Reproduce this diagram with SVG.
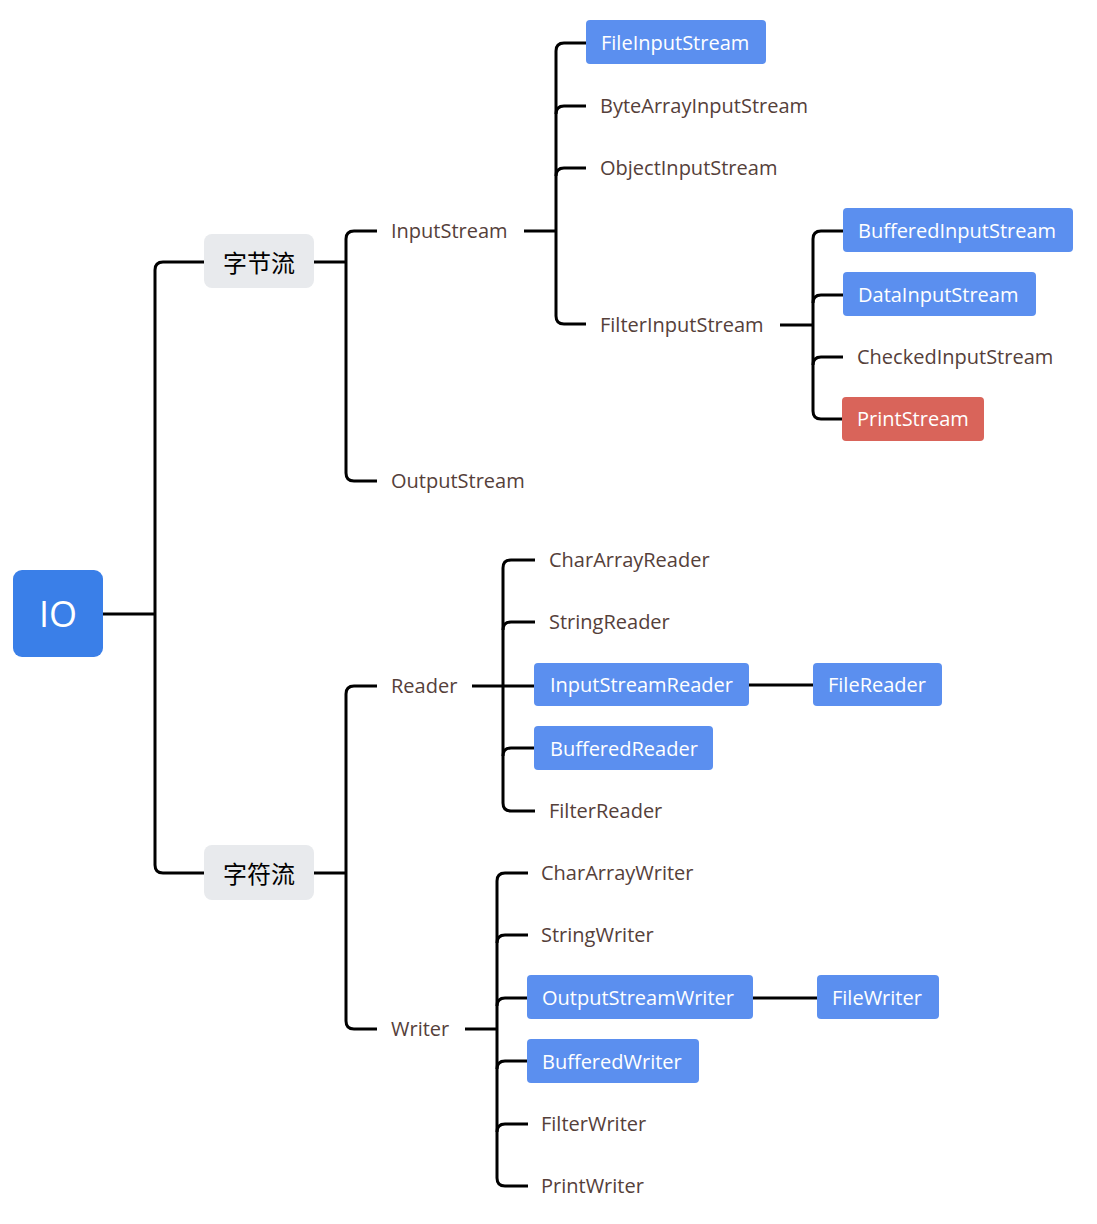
<svg xmlns="http://www.w3.org/2000/svg" width="1097" height="1224" viewBox="0 0 1097 1224">
<style>
.c{fill:none;stroke:#000;stroke-width:3;stroke-linejoin:round}
.t{font-family:"Open Sans","Noto Sans",sans-serif;font-size:20px;fill:#55403a;dominant-baseline:central}
.w{font-family:"Open Sans","Noto Sans",sans-serif;font-size:20px;fill:#fff;dominant-baseline:central}
.b{fill:#5b8fef}
.r{fill:#d9645a}
.g{fill:#e8eaed}
.cj{font-family:"Noto Sans CJK SC",sans-serif;font-size:24px;fill:#000;dominant-baseline:central;text-anchor:middle}
</style>
<rect width="1097" height="1224" fill="#fff"/>
<g id="connectors">
<path class="c" d="M103 614H155"/>
<path class="c" d="M204 262H163Q155 262 155 270V865Q155 873 163 873H204"/>
<path class="c" d="M314 262H346"/>
<path class="c" d="M377 231H354Q346 231 346 239V473Q346 481 354 481H377"/>
<path class="c" d="M524 231H556"/>
<path class="c" d="M586 43H564Q556 43 556 51V316Q556 324 564 324H586"/>
<path class="c" d="M586 106H564Q556 106 556 114"/>
<path class="c" d="M586 168H564Q556 168 556 176"/>
<path class="c" d="M780 325H813"/>
<path class="c" d="M843 231H821Q813 231 813 239V411Q813 419 821 419H843"/>
<path class="c" d="M843 295H821Q813 295 813 303"/>
<path class="c" d="M843 357H821Q813 357 813 365"/>
<path class="c" d="M314 873H346"/>
<path class="c" d="M377 686H354Q346 686 346 694V1021Q346 1029 354 1029H377"/>
<path class="c" d="M472 686H535"/>
<path class="c" d="M535 560H511Q503 560 503 568V803Q503 811 511 811H535"/>
<path class="c" d="M535 622H511Q503 622 503 630"/>
<path class="c" d="M535 748H511Q503 748 503 756"/>
<path class="c" d="M749 685H813"/>
<path class="c" d="M465 1029H497"/>
<path class="c" d="M528 873H505Q497 873 497 881V1178Q497 1186 505 1186H528"/>
<path class="c" d="M528 935H505Q497 935 497 943"/>
<path class="c" d="M528 998H505Q497 998 497 1006"/>
<path class="c" d="M528 1061H505Q497 1061 497 1069"/>
<path class="c" d="M528 1124H505Q497 1124 497 1132"/>
<path class="c" d="M753 998H817"/>
</g>
<g id="io"><rect x="13" y="570" width="90" height="87" rx="9" fill="#3a7fe8"/><text x="58" y="613" font-family="Open Sans,sans-serif" font-size="36" fill="#fff" text-anchor="middle" dominant-baseline="central">IO</text></g>
<g id="byte"><rect class="g" x="204" y="234" width="110" height="54" rx="8"/><text class="cj" x="259" y="261">字节流</text></g>
<g id="char"><rect class="g" x="204" y="845" width="110" height="55" rx="8"/><text class="cj" x="259" y="872">字符流</text></g>
<g id="inputstream"><text class="t" x="391" y="230">InputStream</text></g>
<g id="outputstream"><text class="t" x="391" y="480">OutputStream</text></g>
<g id="fileinputstream"><rect class="b" x="586" y="20" width="180" height="44" rx="4"/><text class="w" x="601" y="42">FileInputStream</text></g>
<g id="bytearrayinputstream"><text class="t" x="600" y="105">ByteArrayInputStream</text></g>
<g id="objectinputstream"><text class="t" x="600" y="167">ObjectInputStream</text></g>
<g id="filterinputstream"><text class="t" x="600" y="324">FilterInputStream</text></g>
<g id="bufferedinputstream"><rect class="b" x="843" y="208" width="230" height="44" rx="4"/><text class="w" x="858" y="230">BufferedInputStream</text></g>
<g id="datainputstream"><rect class="b" x="843" y="272" width="193" height="44" rx="4"/><text class="w" x="858" y="294">DataInputStream</text></g>
<g id="checkedinputstream"><text class="t" x="857" y="356">CheckedInputStream</text></g>
<g id="printstream"><rect class="r" x="842" y="397" width="142" height="44" rx="4"/><text class="w" x="857" y="418">PrintStream</text></g>
<g id="reader"><text class="t" x="391" y="685">Reader</text></g>
<g id="chararrayreader"><text class="t" x="549" y="559">CharArrayReader</text></g>
<g id="stringreader"><text class="t" x="549" y="621">StringReader</text></g>
<g id="inputstreamreader"><rect class="b" x="534" y="663" width="215" height="43" rx="4"/><text class="w" x="550" y="684">InputStreamReader</text></g>
<g id="filereader"><rect class="b" x="813" y="663" width="129" height="43" rx="4"/><text class="w" x="828" y="684">FileReader</text></g>
<g id="bufferedreader"><rect class="b" x="534" y="726" width="179" height="44" rx="4"/><text class="w" x="550" y="748">BufferedReader</text></g>
<g id="filterreader"><text class="t" x="549" y="810">FilterReader</text></g>
<g id="writer"><text class="t" x="391" y="1028">Writer</text></g>
<g id="chararraywriter"><text class="t" x="541" y="872">CharArrayWriter</text></g>
<g id="stringwriter"><text class="t" x="541" y="934">StringWriter</text></g>
<g id="outputstreamwriter"><rect class="b" x="527" y="975" width="226" height="44" rx="4"/><text class="w" x="542" y="997">OutputStreamWriter</text></g>
<g id="filewriter"><rect class="b" x="817" y="975" width="122" height="44" rx="4"/><text class="w" x="832" y="997">FileWriter</text></g>
<g id="bufferedwriter"><rect class="b" x="527" y="1039" width="172" height="44" rx="4"/><text class="w" x="542" y="1061">BufferedWriter</text></g>
<g id="filterwriter"><text class="t" x="541" y="1123">FilterWriter</text></g>
<g id="printwriter"><text class="t" x="541" y="1185">PrintWriter</text></g>
</svg>
